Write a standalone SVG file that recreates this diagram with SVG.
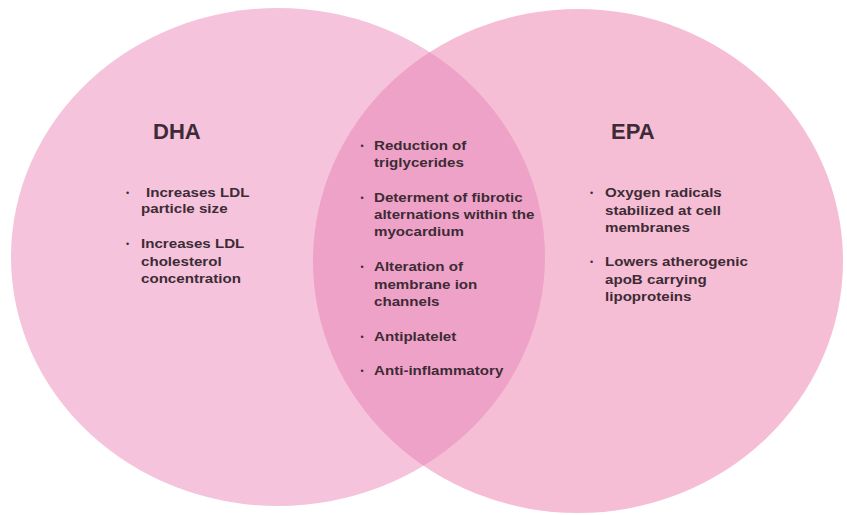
<svg xmlns="http://www.w3.org/2000/svg" width="847" height="515" viewBox="0 0 847 515">
  <style>
    .title { font-family: "Liberation Sans", Arial, sans-serif; font-weight: bold; font-size: 22px; fill: #3d2b36; }
    .item { font-family: "Liberation Sans", Arial, sans-serif; font-weight: bold; font-size: 13.5px; fill: #3d2b36; }
    .dot { font-family: "Liberation Sans", Arial, sans-serif; font-size: 9px; fill: #3d2b36; text-anchor: middle; }
  </style>
  <defs>
    <clipPath id="dha-area">
      <ellipse cx="278" cy="257" rx="267" ry="249"/>
    </clipPath>
  </defs>
  <rect width="847" height="515" fill="#ffffff"/>

  <!-- DHA set -->
  <g id="set-dha">
    <ellipse cx="278" cy="257" rx="267" ry="249" fill="#f5c3db"/>
  </g>

  <!-- EPA set -->
  <g id="set-epa">
    <ellipse cx="578" cy="261" rx="265" ry="252" fill="#f6bed4"/>
  </g>

  <!-- shared region -->
  <g id="set-overlap">
    <ellipse cx="578" cy="261" rx="265" ry="252" fill="#efa2c7" clip-path="url(#dha-area)"/>
  </g>

  <!-- DHA labels -->
  <g id="label-dha">
    <text class="title" x="153" y="138.5">DHA</text>
    <text class="dot" x="127.5" y="195.5">•</text>
    <text class="dot" x="127.5" y="247">•</text>
    <g transform="translate(141 0) scale(1.12 1)">
      <text class="item" x="4.5" y="197">Increases LDL</text>
      <text class="item" x="0" y="213.5">particle size</text>
      <text class="item" x="0" y="248.5">Increases LDL</text>
      <text class="item" x="0" y="266">cholesterol</text>
      <text class="item" x="0" y="283.5">concentration</text>
    </g>
  </g>

  <!-- shared effects -->
  <g id="label-overlap">
    <text class="dot" x="362" y="148.5">•</text>
    <text class="dot" x="362" y="201">•</text>
    <text class="dot" x="362" y="270">•</text>
    <text class="dot" x="362" y="339.5">•</text>
    <text class="dot" x="362" y="374">•</text>
    <g transform="translate(374 0) scale(1.12 1)">
      <text class="item" x="0" y="150">Reduction of</text>
      <text class="item" x="0" y="167">triglycerides</text>
      <text class="item" x="0" y="202.5">Determent of fibrotic</text>
      <text class="item" x="0" y="219.5">alternations within the</text>
      <text class="item" x="0" y="236.5">myocardium</text>
      <text class="item" x="0" y="271.5">Alteration of</text>
      <text class="item" x="0" y="289">membrane ion</text>
      <text class="item" x="0" y="306.5">channels</text>
      <text class="item" x="0" y="341">Antiplatelet</text>
      <text class="item" x="0" y="375.5">Anti-inflammatory</text>
    </g>
  </g>

  <!-- EPA labels -->
  <g id="label-epa">
    <text class="title" x="611" y="138.5">EPA</text>
    <text class="dot" x="591.5" y="196">•</text>
    <text class="dot" x="591.5" y="265">•</text>
    <g transform="translate(605 0) scale(1.12 1)">
      <text class="item" x="0" y="197.5">Oxygen radicals</text>
      <text class="item" x="0" y="215">stabilized at cell</text>
      <text class="item" x="0" y="232.5">membranes</text>
      <text class="item" x="0" y="266.5">Lowers atherogenic</text>
      <text class="item" x="0" y="284">apoB carrying</text>
      <text class="item" x="0" y="301.5">lipoproteins</text>
    </g>
  </g>
</svg>
